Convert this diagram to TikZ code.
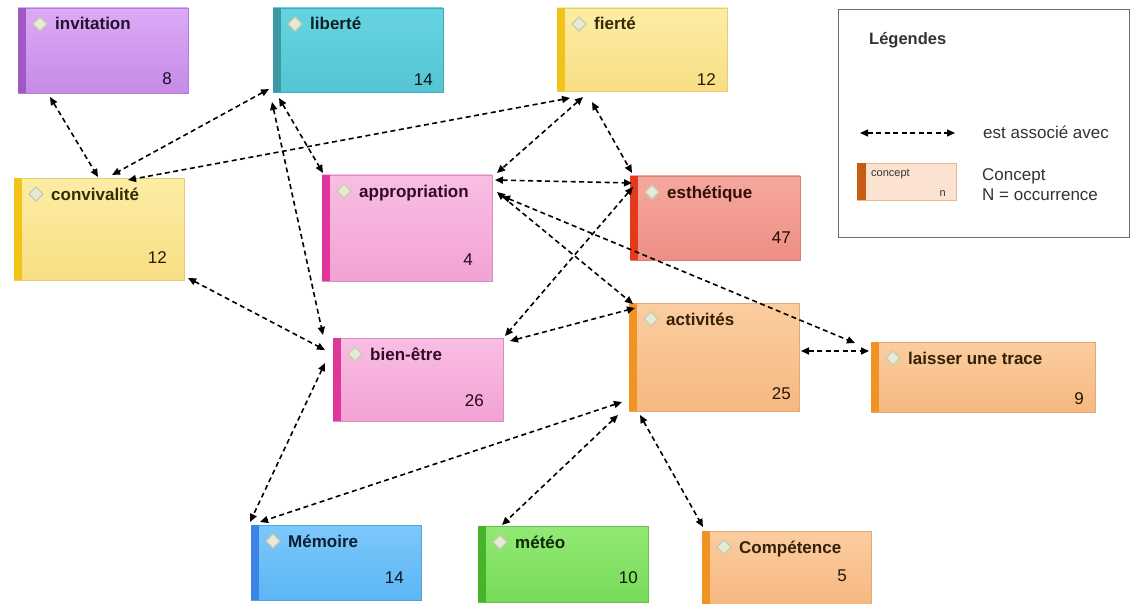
\documentclass[tikz,border=0pt]{standalone}
\usepackage{fontspec}
\setmainfont{Liberation Sans}
\usetikzlibrary{arrows.meta,calc}
% colours: T top, F bottom, B bar, D border
\definecolor{invT}{HTML}{DCAAF7}\definecolor{invF}{HTML}{C78AE6}\definecolor{invB}{HTML}{9F58C4}\definecolor{invD}{HTML}{B27CD2}
\definecolor{libT}{HTML}{66D4E0}\definecolor{libF}{HTML}{55C5D3}\definecolor{libB}{HTML}{3C98A4}\definecolor{libD}{HTML}{48AAB8}
\definecolor{yelT}{HTML}{FCEDA4}\definecolor{yelF}{HTML}{F8DE84}\definecolor{yelB}{HTML}{F2C418}\definecolor{yelD}{HTML}{E6CC74}
\definecolor{pnkT}{HTML}{F9BEE3}\definecolor{pnkF}{HTML}{F2A2D3}\definecolor{pnkB}{HTML}{E0369B}\definecolor{pnkD}{HTML}{D690C0}
\definecolor{redT}{HTML}{F5A89E}\definecolor{redF}{HTML}{EE8F85}\definecolor{redB}{HTML}{E43A1C}\definecolor{redD}{HTML}{D88078}
\definecolor{orgT}{HTML}{FBCDA0}\definecolor{orgF}{HTML}{F6B880}\definecolor{orgB}{HTML}{F09224}\definecolor{orgD}{HTML}{E0AA78}
\definecolor{bluT}{HTML}{7CC8FB}\definecolor{bluF}{HTML}{5CB5F4}\definecolor{bluB}{HTML}{3C84E4}\definecolor{bluD}{HTML}{58A0D8}
\definecolor{grnT}{HTML}{92EA74}\definecolor{grnF}{HTML}{76DA58}\definecolor{grnB}{HTML}{46B428}\definecolor{grnD}{HTML}{6CC050}
\definecolor{legD}{HTML}{6E6E6E}
\definecolor{lcF}{HTML}{FCE2D0}\definecolor{lcB}{HTML}{C85C14}\definecolor{lcD}{HTML}{E6B898}
\definecolor{diamD}{HTML}{C6CCAE}\definecolor{diamF}{HTML}{E6EAD6}
\definecolor{txtc}{HTML}{333333}
\tikzset{
  cbox/.style={rectangle, inner sep=0pt, outer sep=0pt, line width=0.8pt},
  lbl/.style={inner sep=0pt, anchor=base west, font=\bfseries\fontsize{17}{20}\selectfont},
  num/.style={inner sep=0pt, anchor=base east, font=\fontsize{17}{20}\selectfont},
  txt/.style={inner sep=0pt, anchor=base west, text=txtc, font=\fontsize{17}{20}\selectfont},
  diamc/.style={draw=diamD, fill=diamF, line width=1.2pt},
  assoc/.style={dash pattern=on 5pt off 3.5pt, line width=1.6pt,
    {Triangle[length=8pt,width=7pt]}-{Triangle[length=8pt,width=7pt]}},
}
% name, x1, y1, x2, y2, label, number, number position (right, centre), colour prefix
\newcommand\cnode[9]{%
  \node[cbox, draw=#9D, top color=#9T, bottom color=#9F,
        minimum width={#4-#2}, minimum height={#5-#3}] (#1) at ({(#2+#4)/2},{(#3+#5)/2}) {};
  \fill[#9B] (#1.north west) rectangle ($(#1.south west)+(8,0)$);
  \draw[diamc] ($(#1.north west)+(22,9)$) -- ++(7,7) -- ++(-7,7) -- ++(-7,-7) -- cycle;
  \node[lbl, text=#9B!22!black] at ($(#1.north west)+(37,22)$) {#6};
  \node[num, text=#9B!15!black] at ($(#8)+(0,6)$) {#7};
}
\begin{document}
\begin{tikzpicture}[x=1pt,y=-1pt]
\fill[white] (0,0) rectangle (1131,604);
\useasboundingbox (0,0) rectangle (1131,604);

\cnode{inv}{18}{8}{188}{93}{invitation}{8}{172,79}{inv}
\cnode{lib}{273}{8}{443}{92}{liberté}{14}{433,80}{lib}
\cnode{fie}{557}{8}{727}{91}{fierté}{12}{716,80}{yel}
\cnode{conv}{14}{178}{184}{280}{convivalité}{12}{167,257}{yel}
\cnode{appr}{322}{175}{492}{281}{appropriation}{4}{473,259}{pnk}
\cnode{esth}{630}{176}{800}{260}{esthétique}{47}{791,237}{red}
\cnode{bien}{333}{338}{503}{421}{bien-être}{26}{484,400}{pnk}
\cnode{act}{629}{303}{799}{411}{activités}{25}{791,393}{org}
\cnode{lay}{871}{342}{1095}{412}{laisser une trace}{9}{1084,398}{org}
\cnode{mem}{251}{525}{421}{600}{Mémoire}{14}{404,577}{blu}
\cnode{met}{478}{526}{648}{602}{météo}{10}{638,577}{grn}
\cnode{comp}{702}{531}{871}{604}{Compétence}{5}{847,575}{org}

% connectors
\draw[assoc] ($(inv.north west)+(32,89)$) -- ($(conv.north west)+(84,-1)$);
\draw[assoc] ($(lib.north west)+(-4,81)$) -- ($(conv.north west)+(98,-3)$);
\draw[assoc] ($(fie.north west)+(13,90)$) -- ($(conv.north west)+(114,2)$);
\draw[assoc] ($(lib.north west)+(6,90)$) -- ($(appr.north west)+(1,-2)$);
\draw[assoc] ($(lib.north west)+(-1,94)$) -- ($(bien.north west)+(-10,-3)$);
\draw[assoc] ($(fie.north west)+(26,89)$) -- ($(appr.north west)+(175,-2)$);
\draw[assoc] ($(fie.north west)+(35,94)$) -- ($(esth.north west)+(2,-3)$);
\draw[assoc] ($(appr.north west)+(173,5)$) -- ($(esth.north west)+(2,7)$);
\draw[assoc] ($(appr.north west)+(175,17)$) -- ($(act.north west)+(4,1)$);
\draw[assoc] ($(appr.north west)+(180,21)$) -- ($(lay.north west)+(-16,1)$);
\draw[assoc] ($(esth.north west)+(3,11)$) -- ($(bien.north west)+(172,-2)$);
\draw[assoc] ($(bien.north west)+(177,3)$) -- ($(act.north west)+(6,5)$);
\draw[assoc] ($(conv.north west)+(174,100)$) -- ($(bien.north west)+(-8,12)$);
\draw[assoc] ($(bien.north west)+(-8,25)$) -- ($(mem.north west)+(-1,-3)$);
\draw[assoc] ($(act.north west)+(-7,99)$) -- ($(mem.north west)+(9,-3)$);
\draw[assoc] ($(act.north west)+(-11,112)$) -- ($(met.north west)+(24,-1)$);
\draw[assoc] ($(act.north west)+(11,112)$) -- ($(comp.north west)+(1,-4)$);
\draw[assoc] ($(act.north west)+(172,48)$) -- ($(lay.north west)+(-2,9)$);

% legend
\node[cbox, draw=legD, line width=1pt, minimum width=291, minimum height=227] (leg) at (983.5,123.5) {};
\node[lbl, text=txtc, font=\bfseries\fontsize{16.5}{20}\selectfont] (legt) at (869,45) {Légendes};
\coordinate (la) at (860,133);
\coordinate (lb) at (955,133);
\draw[assoc, line width=1.3pt] (la) -- (lb);
\node[txt] (lt1) at (983,139) {est associé avec};
\node[cbox, draw=lcD, fill=lcF, minimum width=99, minimum height=37] (lc) at (906.5,181.5) {};
\fill[lcB] (lc.north west) rectangle ($(lc.south west)+(9,0)$);
\node[inner sep=0pt, anchor=base west, text=txtc, font=\fontsize{11}{13}\selectfont] (lcl) at ($(lc.north west)+(14,14)$) {concept};
\node[inner sep=0pt, anchor=base east, text=txtc, font=\fontsize{11}{13}\selectfont] (lcn) at ($(lc.south east)+(-10,-4)$) {n};
\node[txt] (lt2) at (982,181) {Concept};
\node[txt] (lt3) at (982,200) {N = occurrence};
\end{tikzpicture}
\end{document}
